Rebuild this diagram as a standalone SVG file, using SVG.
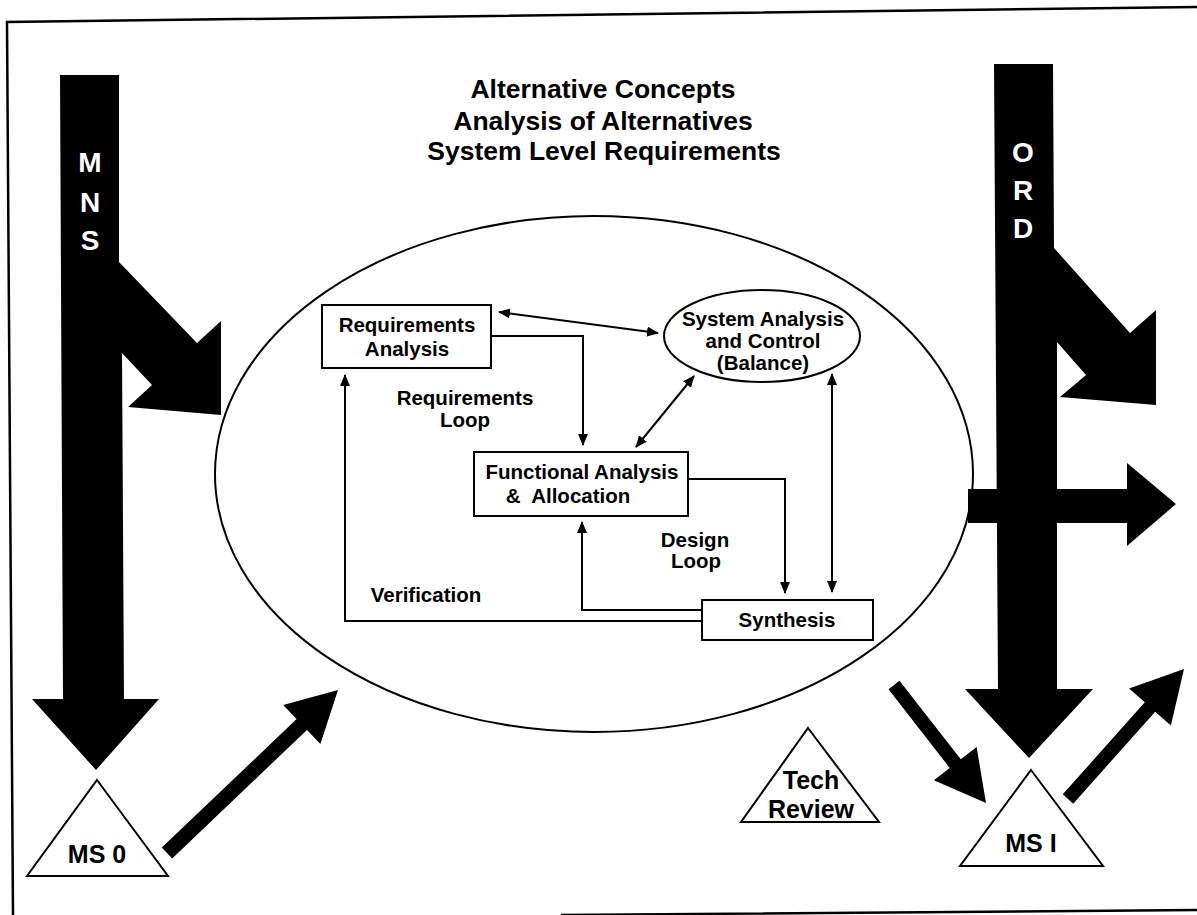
<svg xmlns="http://www.w3.org/2000/svg" width="1197" height="915" viewBox="0 0 1197 915">
<style>
text{font-family:"Liberation Sans",Arial,sans-serif;font-weight:bold;fill:#000;text-anchor:middle}
.lbl{font-size:20.5px}
.title{font-size:26.5px}
.big{font-size:28px;fill:#fff}
.ms{font-size:25px}
.box{fill:#fff;stroke:#000;stroke-width:2}
.con{fill:none;stroke:#000;stroke-width:2}
.blk{fill:#000;stroke:none}
</style>
<defs>
<marker id="ah" viewBox="0 0 12 10" refX="11" refY="5" markerWidth="12" markerHeight="10" markerUnits="userSpaceOnUse" orient="auto-start-reverse">
<path d="M0,0 L12,5 L0,10 z" fill="#000"/>
</marker>
</defs>
<rect width="1197" height="915" fill="#fff"/>
<path id="border" d="M1197,7 L7,22 L13,915 M561,915 L1197,910" fill="none" stroke="#000" stroke-width="2.5"/>

<g id="title">
<text class="title" x="603" y="98">Alternative Concepts</text>
<text class="title" x="603" y="130">Analysis of Alternatives</text>
<text class="title" x="604" y="160">System Level Requirements</text>
</g>

<g id="mns">
<polygon class="blk" points="60,75 119,75 119,262 197,343 221,321 221,415 128,407 152,385 122,353 124,699 159,699 96,770 32,699 63,699"/>
<text class="big" x="90" y="172">M</text>
<text class="big" x="90" y="212">N</text>
<text class="big" x="90" y="250">S</text>
</g>

<g id="ord">
<polygon class="blk" points="994,64 1053,64 1054,248 1130,333 1156,310 1156,405 1060,397 1086,375 1057,342 1057,689 1093,689 1029,758 965,689 998,689"/>
<text class="big" x="1023" y="162">O</text>
<text class="big" x="1023" y="200">R</text>
<text class="big" x="1023" y="238">D</text>
</g>

<g id="phase">
<ellipse cx="594" cy="474" rx="379" ry="258" fill="none" stroke="#000" stroke-width="2"/>
</g>

<g id="connectors">
<polygon class="blk" points="968,489 1127,489 1127,463 1176,504 1127,546 1127,523 968,523"/>
<polygon class="blk" points="161.8,847.6 296.6,719.1 283.2,705 338,690 320.4,744 307,729.9 172.2,858.4"/>
<polygon class="blk" points="899.5,680.7 960.8,759.2 976.6,746.9 986,803 933.9,780.2 949.7,767.9 888.5,689.3"/>
<polygon class="blk" points="1062.8,794.3 1144.8,702.3 1129.1,688.4 1184,669 1170.9,725.6 1155.2,711.7 1073.2,803.7"/>
<line class="con" x1="499" y1="312" x2="658" y2="333" marker-start="url(#ah)" marker-end="url(#ah)"/>
<polyline class="con" points="491,336 583,336 583,445" marker-end="url(#ah)"/>
<line class="con" x1="694" y1="376" x2="636" y2="447" marker-start="url(#ah)" marker-end="url(#ah)"/>
<polyline class="con" points="688,479 785,479 785,593" marker-end="url(#ah)"/>
<line class="con" x1="832" y1="374" x2="832" y2="592" marker-start="url(#ah)" marker-end="url(#ah)"/>
<polyline class="con" points="702,610 582,610 582,522" marker-end="url(#ah)"/>
<polyline class="con" points="702,621 345,621 345,375" marker-end="url(#ah)"/>
</g>

<g id="req-analysis">
<rect class="box" x="322" y="305" width="169" height="63"/>
<text class="lbl" x="407" y="332">Requirements</text>
<text class="lbl" x="407" y="356">Analysis</text>
</g>

<g id="sys-analysis">
<ellipse class="box" cx="762" cy="336" rx="98" ry="46"/>
<text class="lbl" x="763" y="326">System Analysis</text>
<text class="lbl" x="763" y="348">and Control</text>
<text class="lbl" x="763" y="370">(Balance)</text>
</g>

<g id="func-analysis">
<rect class="box" x="474" y="452" width="214" height="64"/>
<text class="lbl" x="582" y="479">Functional Analysis</text>
<text class="lbl" x="568" y="503" xml:space="preserve">&amp;  Allocation</text>
</g>

<g id="synthesis">
<rect class="box" x="702" y="600" width="171" height="40"/>
<text class="lbl" x="787" y="627">Synthesis</text>
</g>

<g id="loop-labels">
<text class="lbl" x="465" y="405">Requirements</text>
<text class="lbl" x="465" y="427">Loop</text>
<text class="lbl" x="695" y="547">Design</text>
<text class="lbl" x="696" y="568">Loop</text>
<text class="lbl" x="426" y="602">Verification</text>
</g>

<g id="ms0">
<polygon class="box" points="97,780 168,876 27,876"/>
<text class="ms" x="97" y="863">MS 0</text>
</g>

<g id="tech-review">
<polygon class="box" points="808,728 879,822 741,822"/>
<text class="ms" x="811" y="789">Tech</text>
<text class="ms" x="811" y="818">Review</text>
</g>

<g id="ms1">
<polygon class="box" points="1031,770 1103,866 960,866"/>
<text class="ms" x="1031" y="852">MS I</text>
</g>
</svg>
